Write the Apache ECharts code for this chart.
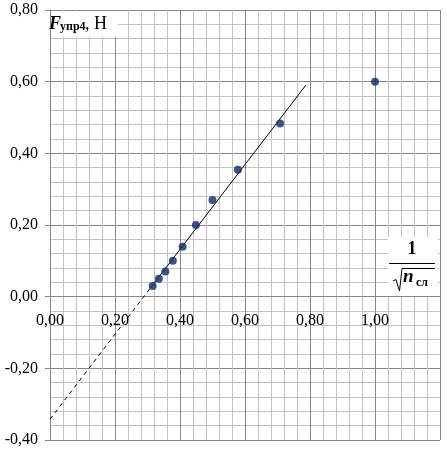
<!DOCTYPE html>
<html>
<head>
<meta charset="utf-8">
<script src="https://cdn.jsdelivr.net/npm/echarts@6/dist/echarts.min.js"></script>
<style>
html,body{margin:0;padding:0;background:#fff;}
#c{width:447px;height:452px;}
</style>
</head>
<body>
<div id="c"></div>
<script>
// x values: 1/sqrt(n_сл)
var xValues = [0.316, 0.335, 0.355, 0.378, 0.408, 0.449, 0.50, 0.578, 0.708, 1.00];
// y values: F_упр4, Н
var yValues = [0.03, 0.05, 0.07, 0.10, 0.139, 0.20, 0.27, 0.354, 0.483, 0.60];
// trend line endpoints (extrapolated dashed part and solid part)
var trendDashX = [0, 0.308];
var trendDashY = [-0.342, 0.023];
var trendSolidX = [0.308, 0.787];
var trendSolidY = [0.023, 0.59];
var xTickLabels = ['0,00', '0,20', '0,40', '0,60', '0,80', '1,00', ''];
var yTickLabels = ['-0,40', '-0,20', '0,00', '0,20', '0,40', '0,60', '0,80'];

function pairs(xs, ys) { return xs.map(function (x, i) { return [x, ys[i]]; }); }

var chart = echarts.init(document.getElementById('c'), null, {renderer: 'canvas'});
var serif = 'Liberation Serif, Times New Roman, serif';
var major = '#878787', minor = '#c3c3c3';

chart.setOption({
  animation: false,
  backgroundColor: '#fff',
  grid: {left: 50, right: 7, top: 10, bottom: 12},
  xAxis: {
    type: 'value', min: 0, max: 1.2, interval: 0.2,
    position: 'bottom', offset: -143.3,
    axisLine: {onZero: false, lineStyle: {color: major, width: 1}},
    axisTick: {show: false},
    minorTick: {show: false, splitNumber: 5},
    splitLine: {show: true, lineStyle: {color: major, width: 1}},
    minorSplitLine: {show: true, lineStyle: {color: minor, width: 1}},
    axisLabel: {
      margin: 16, color: '#000', fontFamily: serif, fontSize: 16,
      formatter: function (v) { return xTickLabels[Math.round(v / 0.2)]; }
    }
  },
  yAxis: {
    type: 'value', min: -0.4, max: 0.8, interval: 0.2,
    axisLine: {show: true, lineStyle: {color: major, width: 1}},
    axisTick: {show: true, length: 5, lineStyle: {color: major}},
    minorTick: {show: false, splitNumber: 5},
    splitLine: {show: true, lineStyle: {color: major, width: 1}},
    minorSplitLine: {show: true, lineStyle: {color: minor, width: 1}},
    axisLabel: {
      margin: 12, color: '#000', fontFamily: serif, fontSize: 16,
      formatter: function (v) { return yTickLabels[Math.round((v + 0.4) / 0.2)]; }
    }
  },
  series: [
    {type: 'line', data: pairs(trendDashX, trendDashY), showSymbol: false, symbol: 'none',
     lineStyle: {color: '#000', width: 1, type: [4, 4]}, z: 3},
    {type: 'line', data: pairs(trendSolidX, trendSolidY), showSymbol: false, symbol: 'none',
     lineStyle: {color: '#000', width: 1}, z: 3},
    {type: 'scatter', data: pairs(xValues, yValues), symbol: 'circle', symbolSize: 8,
     itemStyle: {color: '#0f2a68'}, z: 5}
  ],
  graphic: [
    {type: 'rect', shape: {x: 51, y: 11, width: 67, height: 26}, style: {fill: '#fff'}, z: 10},
    {type: 'text', x: 49, y: 24, style: {text: 'F', font: 'italic bold 18px ' + serif, fill: '#000', align: 'left', verticalAlign: 'middle'}, z: 11},
    {type: 'text', x: 60, y: 27, style: {text: 'упр4', font: 'bold 12px ' + serif, fill: '#000', align: 'left', verticalAlign: 'middle'}, z: 11},
    {type: 'text', x: 85, y: 24, style: {text: ', Н', font: '18px ' + serif, fill: '#000', align: 'left', verticalAlign: 'middle'}, z: 11},

    {type: 'rect', shape: {x: 388, y: 237, width: 50, height: 59}, style: {fill: '#fff'}, z: 10},
    {type: 'text', x: 412, y: 249, style: {text: '1', font: 'bold 18px ' + serif, fill: '#000', align: 'center', verticalAlign: 'middle'}, z: 11},
    {type: 'line', shape: {x1: 389, y1: 263.5, x2: 435, y2: 263.5}, style: {stroke: '#000', lineWidth: 1}, z: 11},
    {type: 'polyline', shape: {points: [[393, 281], [396, 279.5], [399.5, 291], [402, 268.5], [435, 268.5]]}, style: {stroke: '#000', lineWidth: 1, fill: null}, z: 11},
    {type: 'text', x: 403, y: 277.5, style: {text: 'n', font: 'italic bold 19px ' + serif, fill: '#000', align: 'left', verticalAlign: 'middle'}, z: 11},
    {type: 'text', x: 416, y: 282.5, style: {text: 'сл', font: 'bold 12px ' + serif, fill: '#000', align: 'left', verticalAlign: 'middle'}, z: 11}
  ]
});
</script>
</body>
</html>
